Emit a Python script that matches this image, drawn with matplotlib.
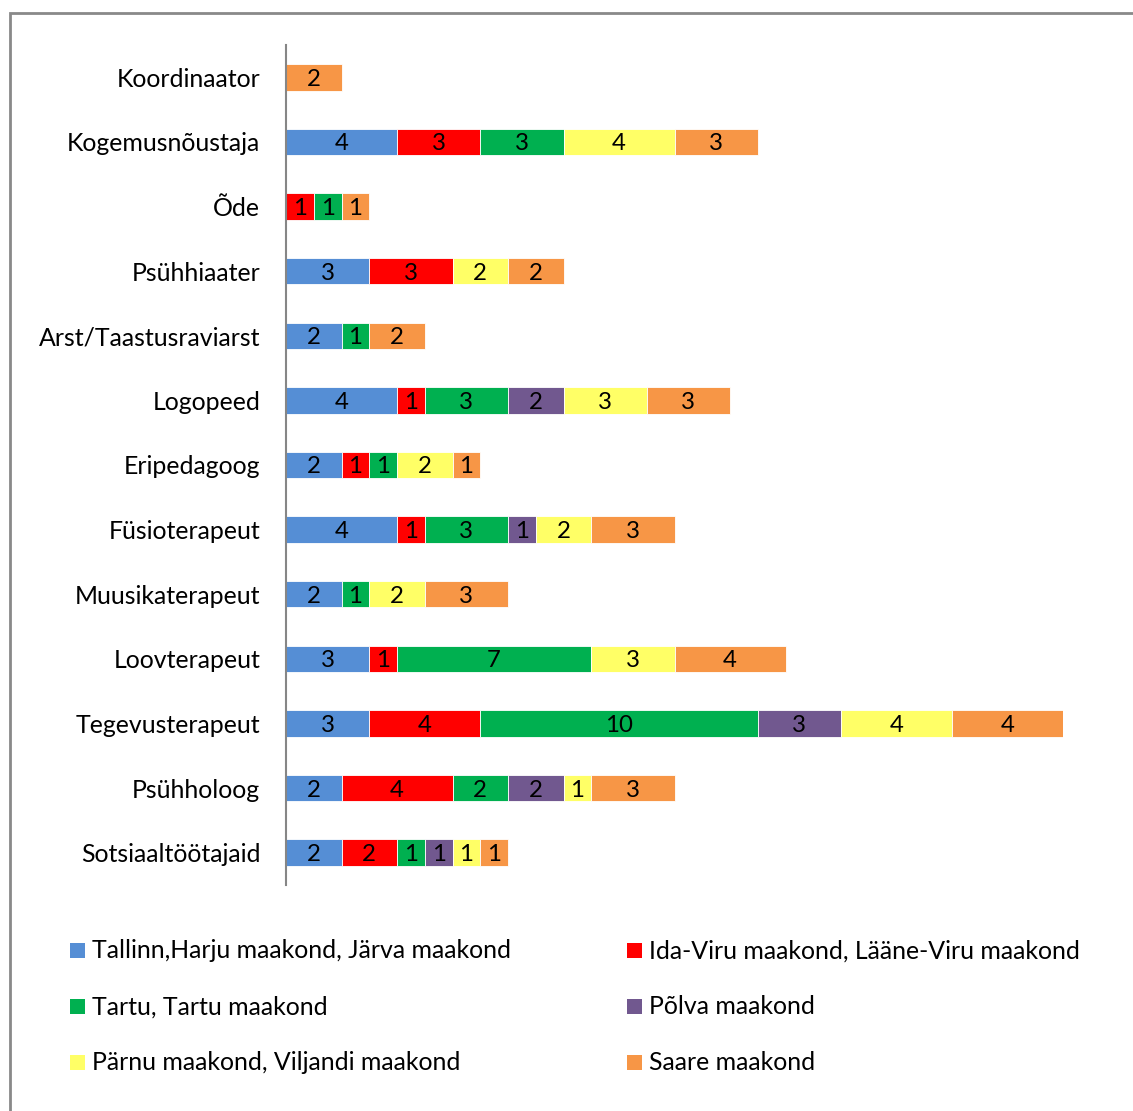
import matplotlib.pyplot as plt
from matplotlib.patches import Rectangle
import numpy as np

plt.rcParams['font.family'] = ['Lato', 'DejaVu Sans']

# kategooriad ülevalt alla
ametid = ["Koordinaator", "Kogemusnõustaja", "Õde", "Psühhiaater",
          "Arst/Taastusraviarst", "Logopeed", "Eripedagoog", "Füsioterapeut",
          "Muusikaterapeut", "Loovterapeut", "Tegevusterapeut", "Psühholoog",
          "Sotsiaaltöötajaid"]

piirkonnad = ["Tallinn,Harju maakond, Järva maakond",
              "Ida-Viru maakond, Lääne-Viru maakond",
              "Tartu, Tartu maakond",
              "Põlva maakond",
              "Pärnu maakond, Viljandi maakond",
              "Saare maakond"]

tallinn = [0, 4, 0, 3, 2, 4, 2, 4, 2, 3, 3, 2, 2]
ida_viru = [0, 3, 1, 3, 0, 1, 1, 1, 0, 1, 4, 4, 2]
tartu = [0, 3, 1, 0, 1, 3, 1, 3, 1, 7, 10, 2, 1]
polva = [0, 0, 0, 0, 0, 2, 0, 1, 0, 0, 3, 2, 1]
parnu = [0, 4, 0, 2, 0, 3, 2, 2, 2, 3, 4, 1, 1]
saare = [2, 3, 1, 2, 2, 3, 1, 3, 3, 4, 4, 3, 1]

varvid = ["#558ED5", "#FF0000", "#00B050", "#71588F", "#FFFF66", "#F79646"]

W, H = 1133, 1111
fig = plt.figure(figsize=(W / 100, H / 100), dpi=100)

# raam ümber diagrammi
fig.add_artist(Rectangle((10 / W, -0.1), 1.2, 1 - 13 / H + 0.1,
                         transform=fig.transFigure, fill=False,
                         edgecolor="#898989", linewidth=2))

ax = fig.add_axes([286 / W, 1 - 885 / H, (1063 - 286) / W, (885 - 45) / H])

andmed = [tallinn, ida_viru, tartu, polva, parnu, saare]
y = np.arange(len(ametid))
vasak = np.zeros(len(ametid))
for seeria, varv in zip(andmed, varvid):
    seeria = np.array(seeria, dtype=float)
    ax.barh(y, seeria, left=vasak, height=0.41, color=varv,
            edgecolor="white", linewidth=0.6)
    for yi, (l, v) in enumerate(zip(vasak, seeria)):
        if v > 0:
            ax.text(l + v / 2, yi + 0.03, f"{int(v)}", ha="center", va="center",
                    fontsize=17.3, color="black")
    vasak += seeria

ax.set_xlim(0, 28)
ax.set_ylim(len(ametid) - 0.5, -0.5)
ax.set_yticks(y)
ax.set_yticklabels(ametid, fontsize=17.9)
ax.tick_params(axis="y", length=0, pad=18.5)
ax.set_xticks([])
for s in ["top", "right", "bottom"]:
    ax.spines[s].set_visible(False)
ax.spines["left"].set_color("#868686")
ax.spines["left"].set_linewidth(1.5)

# legend kahes veerus
veerg_x = [70, 627]
rida_y = [950, 1006, 1062]
for i, (nimi, varv) in enumerate(zip(piirkonnad, varvid)):
    x0 = veerg_x[i % 2]
    y0 = rida_y[i // 2]
    fig.add_artist(Rectangle((x0 / W, 1 - (y0 + 7.5) / H), 15 / W, 15 / H,
                             transform=fig.transFigure, facecolor=varv,
                             edgecolor="none"))
    fig.text((x0 + 22) / W, 1 - (y0 + 1) / H, nimi, ha="left", va="center",
             fontsize=17.9)

fig.savefig("out.png", dpi=100)
